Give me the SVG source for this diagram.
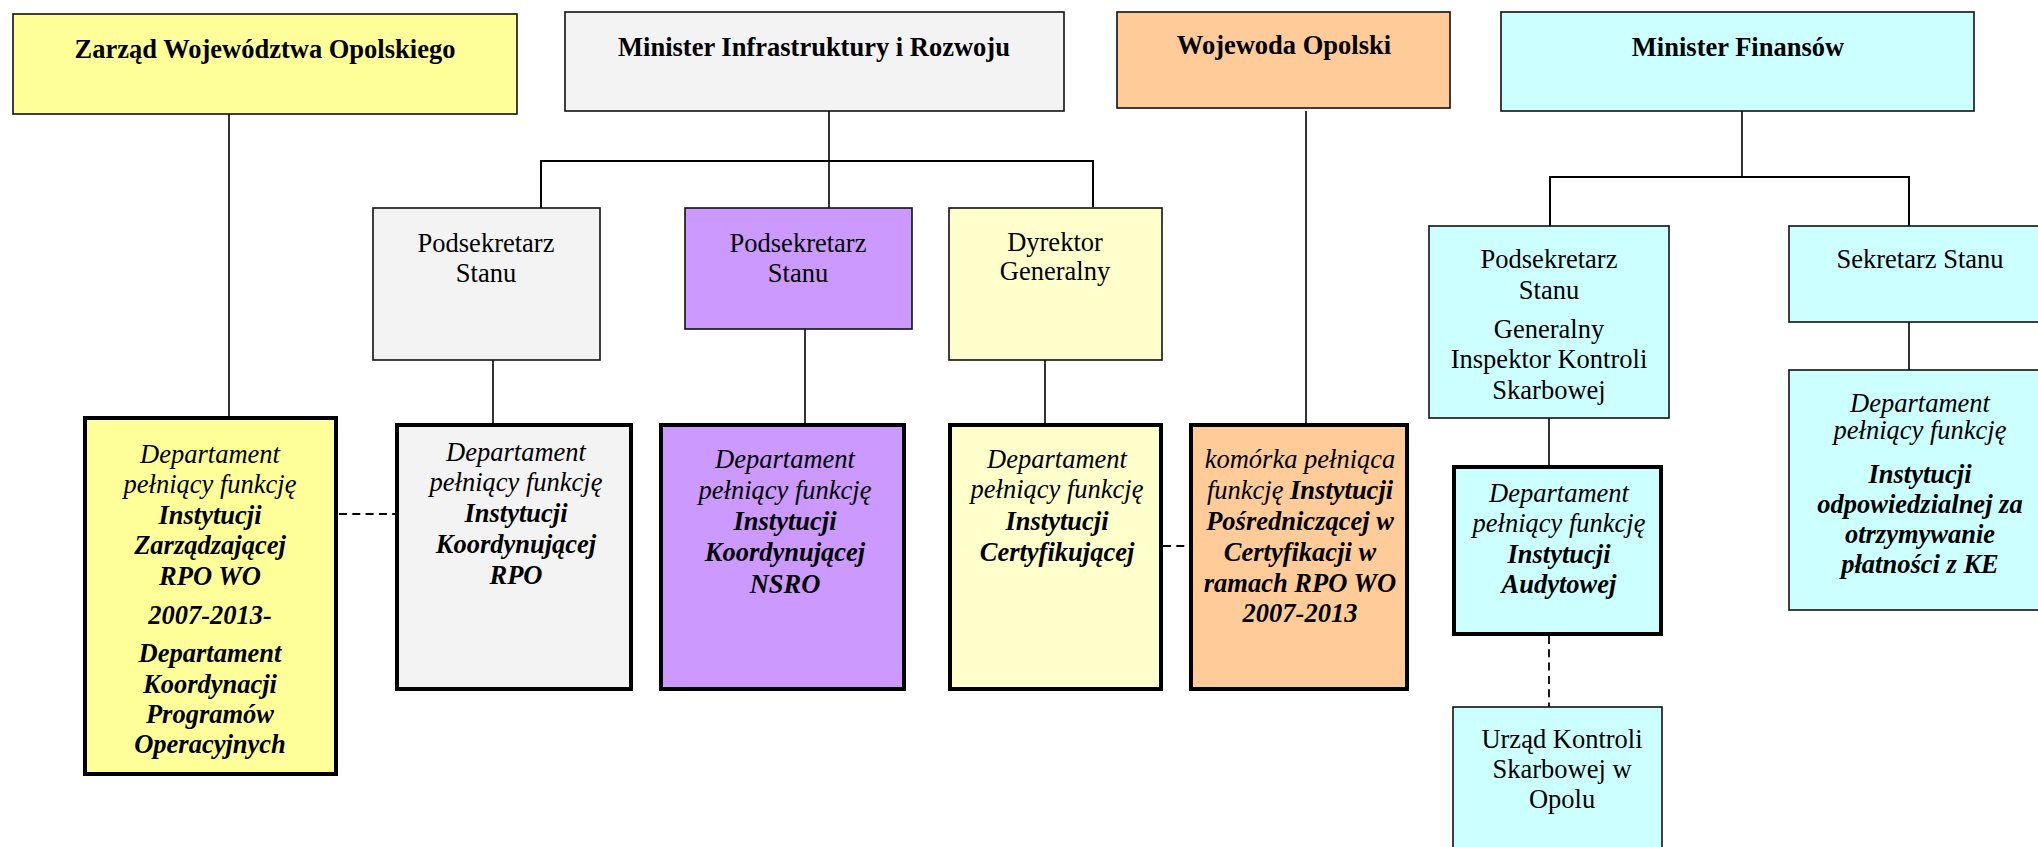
<svg xmlns="http://www.w3.org/2000/svg" width="2038" height="847" viewBox="0 0 2038 847">
<style>
text{font-family:"Liberation Serif","Times New Roman",serif;font-size:26.5px;fill:#000;text-anchor:middle}
.hb{font-weight:bold}
.i{font-style:italic}
.b{font-style:italic;font-weight:bold}
.thin{stroke:#111;stroke-width:1.6}
.thick{stroke:#000;stroke-width:4}
.ln{stroke:#000;stroke-width:1.6;fill:none}
.hl{stroke:#000;stroke-width:2;fill:none}
.dash{stroke:#000;stroke-width:1.8;fill:none;stroke-dasharray:8 5.3}
</style>
<rect width="2038" height="847" fill="#fff"/>
<g id="connectors">
<line class="ln" x1="229" y1="114" x2="229" y2="416"/>
<line class="ln" x1="829" y1="106" x2="829" y2="208"/>
<polyline class="hl" points="541,208 541,161 1093,161 1093,207"/>
<line class="ln" x1="493" y1="353" x2="493" y2="423"/>
<line class="ln" x1="805" y1="329" x2="805" y2="423"/>
<line class="ln" x1="1045" y1="360" x2="1045" y2="423"/>
<line class="ln" x1="1306" y1="111" x2="1306" y2="423"/>
<line class="ln" x1="1742" y1="106" x2="1742" y2="177"/>
<polyline class="hl" points="1550,226 1550,177 1909,177 1909,226"/>
<line class="ln" x1="1549" y1="418" x2="1549" y2="465"/>
<line class="ln" x1="1909" y1="322" x2="1909" y2="370"/>
<line class="dash" x1="339" y1="514" x2="395" y2="514"/>
<line class="dash" x1="1163" y1="546" x2="1189" y2="546"/>
<line class="dash" x1="1549" y1="636" x2="1549" y2="707"/>
</g>
<g id="zarzad">
<rect class="thin" x="13" y="14" width="504" height="100" fill="#FFFF99"/>
<text class="hb" x="265" y="58">Zarząd Województwa Opolskiego</text>
</g>
<g id="minister-infra">
<rect class="thin" x="565" y="12" width="499" height="99" fill="#F3F3F3"/>
<text class="hb" x="814" y="56">Minister Infrastruktury i Rozwoju</text>
</g>
<g id="wojewoda">
<rect class="thin" x="1117" y="12" width="333" height="96" fill="#FFCC99"/>
<text class="hb" x="1284" y="54">Wojewoda Opolski</text>
</g>
<g id="minister-fin">
<rect class="thin" x="1501" y="12" width="473" height="99" fill="#CCFFFF"/>
<text class="hb" x="1738" y="56">Minister Finansów</text>
</g>
<g id="podsekretarz-1">
<rect class="thin" x="373" y="208" width="227" height="152" fill="#F3F3F3"/>
<text x="486"><tspan x="486" y="252">Podsekretarz</tspan><tspan x="486" y="282">Stanu</tspan></text>
</g>
<g id="podsekretarz-2">
<rect class="thin" x="685" y="208" width="227" height="121" fill="#CC99FF"/>
<text x="798"><tspan x="798" y="252">Podsekretarz</tspan><tspan x="798" y="282">Stanu</tspan></text>
</g>
<g id="dyrektor">
<rect class="thin" x="949" y="208" width="213" height="152" fill="#FFFFCC"/>
<text x="1055"><tspan x="1055" y="251">Dyrektor</tspan><tspan x="1055" y="280">Generalny</tspan></text>
</g>
<g id="podsekretarz-mf">
<rect class="thin" x="1429" y="226" width="240" height="192" fill="#CCFFFF"/>
<text x="1549"><tspan x="1549" y="268">Podsekretarz</tspan><tspan x="1549" y="299">Stanu</tspan><tspan x="1549" y="338">Generalny</tspan><tspan x="1549" y="368">Inspektor Kontroli</tspan><tspan x="1549" y="399">Skarbowej</tspan></text>
</g>
<g id="sekretarz">
<rect class="thin" x="1789" y="226" width="262" height="96" fill="#CCFFFF"/>
<text x="1920" y="268">Sekretarz Stanu</text>
</g>
<g id="dept-iz">
<rect class="thick" x="85" y="418" width="251" height="356" fill="#FFFF99"/>
<text x="210"><tspan class="i" x="210" y="463">Departament</tspan><tspan class="i" x="210" y="493">pełniący funkcję</tspan><tspan class="b" x="210" y="524">Instytucji</tspan><tspan class="b" x="210" y="554">Zarządzającej</tspan><tspan class="b" x="210" y="585">RPO WO</tspan><tspan class="b" x="210" y="624">2007-2013-</tspan><tspan class="b" x="210" y="662">Departament</tspan><tspan class="b" x="210" y="693">Koordynacji</tspan><tspan class="b" x="210" y="723">Programów</tspan><tspan class="b" x="210" y="753">Operacyjnych</tspan></text>
</g>
<g id="dept-ik-rpo">
<rect class="thick" x="397" y="425" width="234" height="264" fill="#F3F3F3"/>
<text x="516"><tspan class="i" x="516" y="461">Departament</tspan><tspan class="i" x="516" y="491">pełniący funkcję</tspan><tspan class="b" x="516" y="522">Instytucji</tspan><tspan class="b" x="516" y="553">Koordynującej</tspan><tspan class="b" x="516" y="584">RPO</tspan></text>
</g>
<g id="dept-ik-nsro">
<rect class="thick" x="661" y="425" width="243" height="264" fill="#CC99FF"/>
<text x="785"><tspan class="i" x="785" y="468">Departament</tspan><tspan class="i" x="785" y="499">pełniący funkcję</tspan><tspan class="b" x="785" y="530">Instytucji</tspan><tspan class="b" x="785" y="561">Koordynującej</tspan><tspan class="b" x="785" y="593">NSRO</tspan></text>
</g>
<g id="dept-ic">
<rect class="thick" x="950" y="425" width="211" height="264" fill="#FFFFCC"/>
<text x="1057"><tspan class="i" x="1057" y="468">Departament</tspan><tspan class="i" x="1057" y="498">pełniący funkcję</tspan><tspan class="b" x="1057" y="530">Instytucji</tspan><tspan class="b" x="1057" y="561">Certyfikującej</tspan></text>
</g>
<g id="komorka-ipc">
<rect class="thick" x="1191" y="425" width="216" height="264" fill="#FFCC99"/>
<text x="1300"><tspan class="i" x="1300" y="468">komórka pełniąca</tspan><tspan class="i" x="1300" y="499">funkcję <tspan class="b">Instytucji</tspan></tspan><tspan class="b" x="1300" y="530">Pośredniczącej w</tspan><tspan class="b" x="1300" y="561">Certyfikacji w</tspan><tspan class="b" x="1300" y="592">ramach RPO WO</tspan><tspan class="b" x="1300" y="622">2007-2013</tspan></text>
</g>
<g id="dept-ia">
<rect class="thick" x="1454" y="467" width="207" height="167" fill="#CCFFFF"/>
<text x="1559"><tspan class="i" x="1559" y="502">Departament</tspan><tspan class="i" x="1559" y="532">pełniący funkcję</tspan><tspan class="b" x="1559" y="563">Instytucji</tspan><tspan class="b" x="1559" y="593">Audytowej</tspan></text>
</g>
<g id="dept-ke">
<rect class="thin" x="1789" y="370" width="262" height="240" fill="#CCFFFF"/>
<text x="1920"><tspan class="i" x="1920" y="412">Departament</tspan><tspan class="i" x="1920" y="439">pełniący funkcję</tspan><tspan class="b" x="1920" y="483">Instytucji</tspan><tspan class="b" x="1920" y="513">odpowiedzialnej za</tspan><tspan class="b" x="1920" y="543">otrzymywanie</tspan><tspan class="b" x="1920" y="573">płatności z KE</tspan></text>
</g>
<g id="urzad">
<rect class="thin" x="1453" y="707" width="209" height="160" fill="#CCFFFF"/>
<text x="1562"><tspan x="1562" y="748">Urząd Kontroli</tspan><tspan x="1562" y="778">Skarbowej w</tspan><tspan x="1562" y="808">Opolu</tspan></text>
</g>
</svg>
